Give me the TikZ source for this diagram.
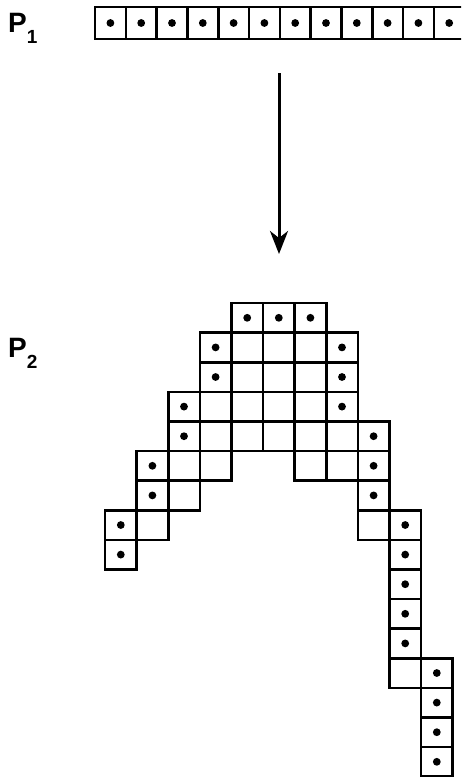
\documentclass[tikz,border=0pt]{standalone}
\usepackage{fontspec}
\setmainfont{Liberation Sans}
\usetikzlibrary{arrows.meta}
\begin{document}
\begin{tikzpicture}[x=1pt,y=-1pt,
  cellbox/.style={draw=black,line width=2.6pt,fill=white,line join=miter},
  dotmark/.style={fill=black},
  lbl/.style={font=\bfseries\fontsize{28}{30}\selectfont,inner sep=0pt,anchor=base west},
  mainarrow/.style={line width=3pt,-{Stealth[length=23pt,width=18pt,inset=7pt]}}]
\useasboundingbox (0,0) rectangle (461,777);
\clip (0,0) rectangle (461,777);
% labels
\node[lbl] (p1) at (8,32) {P\raisebox{-11pt}{\fontsize{19}{20}\selectfont 1}};
\node[lbl] (p2) at (8,357) {P\raisebox{-11pt}{\fontsize{19}{20}\selectfont 2}};
% P1 row
\foreach \i in {0,...,11} {
  \draw[cellbox] (95+30.8*\i,7) rectangle ++(30.8,32);
  \fill[dotmark] (95+30.8*\i+15.4,23) circle (3.9);
}
% arrow
\coordinate (astart) at (279,73);
\coordinate (aend) at (279,254);
\draw[mainarrow] (astart) -- (aend);
% P2 cells with dots
\foreach \c/\r in {4/0,5/0,6/0,3/1,7/1,3/2,7/2,2/3,7/3,2/4,8/4,1/5,8/5,1/6,8/6,0/7,9/7,0/8,9/8,9/9,9/10,9/11,10/12,10/13,10/14,10/15} {
  \draw[cellbox] (105+31.6*\c,303+29.6*\r) rectangle ++(31.6,29.6);
  \fill[dotmark] (105+31.6*\c+15.8,303+29.6*\r+14.8) circle (3.9);
}
% P2 empty cells
\foreach \c/\r in {4/1,5/1,6/1,4/2,5/2,6/2,3/3,4/3,5/3,6/3,3/4,4/4,5/4,6/4,7/4,2/5,3/5,6/5,7/5,2/6,1/7,8/7,9/12} {
  \draw[cellbox] (105+31.6*\c,303+29.6*\r) rectangle ++(31.6,29.6);
}
\end{tikzpicture}
\end{document}
